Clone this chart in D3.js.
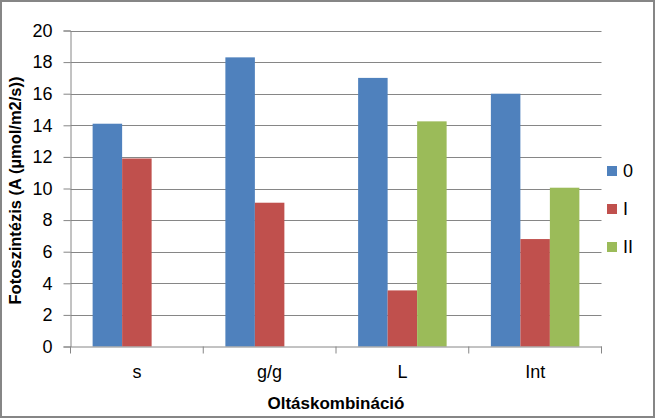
<!DOCTYPE html>
<html>
<head>
<meta charset="utf-8">
<script src="https://cdn.jsdelivr.net/npm/d3@7"></script>
<style>
  body { margin: 0; background: #fff; }
  text { font-family: "Liberation Sans", Arial, sans-serif; fill: #000; }
</style>
</head>
<body>
<div id="chart"></div>
<script>
// data
var categories = ["s", "g/g", "L", "Int"];
var seriesNames = ["0", "I", "II"];
var values0 = [14.1, 18.3, 17.0, 16.0];
var valuesI = [11.9, 9.1, 3.55, 6.8];
var valuesII = [null, null, 14.25, 10.05];
var yTicks = [0, 2, 4, 6, 8, 10, 12, 14, 16, 18, 20];

var colors = ["#4F81BD", "#C0504D", "#9BBB59"];
var allValues = [values0, valuesI, valuesII];

const W = 656, H = 419;
const plot = { left: 70.5, right: 601.5, top: 30.5, bottom: 346.5 };

let svg = d3.select('#chart').append('svg')
    .attr('width', W)
    .attr('height', H);

// background + outer border
svg.append('rect')
    .attr('x', 1).attr('y', 1)
    .attr('width', W - 3).attr('height', H - 3)
    .style('fill', '#fff')
    .style('stroke', '#868686')
    .style('stroke-width', 2);

const x = d3.scaleBand()
    .domain(categories)
    .range([plot.left, plot.right]);

// Excel style gap width 150%
const barW = x.bandwidth() / (seriesNames.length + 1.5);
const xs = d3.scaleBand()
    .domain(seriesNames)
    .range([barW * 0.75, x.bandwidth() - barW * 0.75]);

const y = d3.scaleLinear()
    .domain([0, 20])
    .range([plot.bottom, plot.top]);

// gridlines
svg.append('g')
    .selectAll('line')
    .data(yTicks.filter(d => d > 0))
    .join('line')
    .attr('x1', plot.left).attr('x2', plot.right)
    .attr('y1', d => Math.round(y(d)) + 0.5)
    .attr('y2', d => Math.round(y(d)) + 0.5)
    .style('stroke', '#868686')
    .style('stroke-width', 1);

// y axis
let yAxis = svg.append('g')
    .attr('transform', `translate(${plot.left},0)`)
    .call(d3.axisLeft(y).tickValues(yTicks).tickSize(7).tickPadding(11));
yAxis.select('.domain').style('stroke', '#868686');
yAxis.selectAll('.tick line').style('stroke', '#868686');
yAxis.selectAll('.tick text')
    .style('font-size', '18px')
    .style('font-family', '"Liberation Sans", Arial, sans-serif');

// bars
seriesNames.forEach(function (s, i) {
    svg.append('g')
        .selectAll('rect')
        .data(categories.map((c, j) => ({ cat: c, v: allValues[i][j] })).filter(d => d.v != null))
        .join('rect')
        .attr('x', d => x(d.cat) + xs(s))
        .attr('y', d => y(d.v))
        .attr('width', xs.bandwidth())
        .attr('height', d => y(0) - y(d.v))
        .style('fill', colors[i]);
});

// x axis
let xAxis = svg.append('g')
    .attr('transform', `translate(0,${plot.bottom})`)
    .call(d3.axisBottom(x).tickSize(0).tickPadding(19));
xAxis.select('.domain').style('stroke', '#868686');
xAxis.selectAll('.tick text')
    .style('font-size', '18px')
    .style('font-family', '"Liberation Sans", Arial, sans-serif');

// category boundary ticks
svg.append('g')
    .selectAll('line')
    .data(categories.concat(['end']))
    .join('line')
    .attr('x1', (d, i) => i < categories.length ? x(d) : plot.right)
    .attr('x2', (d, i) => i < categories.length ? x(d) : plot.right)
    .attr('y1', plot.bottom)
    .attr('y2', plot.bottom + 7)
    .style('stroke', '#868686');

// axis titles
svg.append('text')
    .attr('x', (plot.left + plot.right) / 2)
    .attr('y', 409)
    .attr('text-anchor', 'middle')
    .style('font-size', '17px')
    .style('font-weight', 'bold')
    .text('Oltáskombináció');

svg.append('text')
    .attr('transform', `translate(21,${(plot.top + plot.bottom) / 2 + 2}) rotate(-90)`)
    .attr('text-anchor', 'middle')
    .style('font-size', '16.5px')
    .style('font-weight', 'bold')
    .text('Fotoszintézis (A (µmol/m2/s))');

// legend
let legend = svg.append('g')
    .selectAll('g')
    .data(seriesNames)
    .join('g')
    .attr('transform', (d, i) => `translate(607,${166 + i * 38})`);

legend.append('rect')
    .attr('width', 10).attr('height', 10)
    .style('fill', (d, i) => colors[i]);

legend.append('text')
    .attr('x', 16)
    .attr('y', 11)
    .style('font-size', '18px')
    .text(d => d);
</script>
</body>
</html>
